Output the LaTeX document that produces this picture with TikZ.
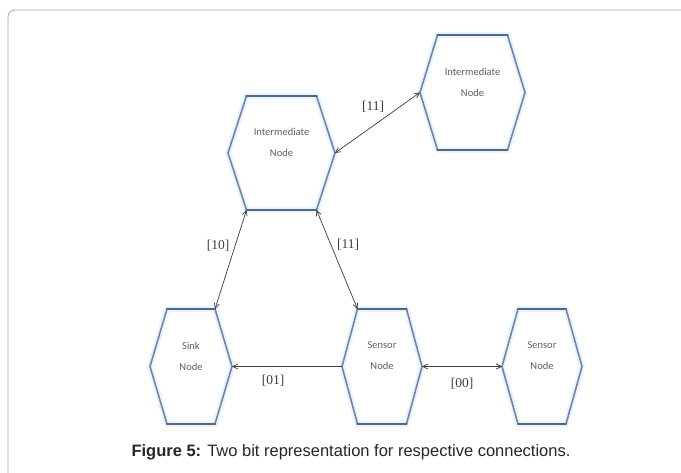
\documentclass[tikz,border=0pt]{standalone}
\usepackage{fontspec}
\setmainfont{Liberation Serif}
\newfontfamily\calib{Carlito}
\newfontfamily\arialf{Liberation Sans}
\usetikzlibrary{arrows.meta}
\definecolor{hexblue}{RGB}{96,138,182}
\definecolor{hexdark}{RGB}{70,106,150}
\definecolor{linegray}{RGB}{60,60,60}
\definecolor{txtgray}{RGB}{95,95,95}
\definecolor{framegray}{RGB}{165,165,165}
\tikzset{
  hexedge/.style={draw=hexblue, line width=1.6pt, line join=round, line cap=round},
  hexflat/.style={draw=hexdark, line width=2.6pt, line cap=round},
  hexglow/.style={draw=hexblue!10, line width=6pt, line join=round},
  hextext/.style={font=\calib\fontsize{10.5}{21}\selectfont, text=txtgray, align=center},
  conn/.style={draw=linegray, line width=0.7pt, >={Straight Barb[length=5pt,width=5pt]}},
  lbl/.style={font=\fontsize{13.5}{15}\selectfont, text=linegray, inner sep=1pt},
}
\newcommand{\hexa}[7]{%
  \coordinate (#1-l) at ({#2-#4},#3);
  \coordinate (#1-r) at ({#2+#4},#3);
  \coordinate (#1-tl) at ({#2-#5},{#3-#6});
  \coordinate (#1-tr) at ({#2+#5},{#3-#6});
  \coordinate (#1-bl) at ({#2-#5},{#3+#6});
  \coordinate (#1-br) at ({#2+#5},{#3+#6});
  \draw[hexglow, fill=white] (#1-l) -- (#1-tl) -- (#1-tr) -- (#1-r) -- (#1-br) -- (#1-bl) -- cycle;
  \draw[hexedge] (#1-tr) -- (#1-r) -- (#1-br);
  \draw[hexedge] (#1-bl) -- (#1-l) -- (#1-tl);
  \draw[hexflat] (#1-tl) -- (#1-tr);
  \draw[hexflat] (#1-bl) -- (#1-br);
  \node[hextext] (#1) at (#2,{#3-10.5}) {#7};
}
\begin{document}
\begin{tikzpicture}[x=1pt,y=-1pt]
\useasboundingbox (0,0) rectangle (681,473);
\clip (0,0) rectangle (681,473);
\fill[white] (0,0) rectangle (681,473);
\draw[framegray, line width=0.8pt, rounded corners=7pt] (8,10) rectangle (720,520);

\hexa{int1}{281.5}{153}{53.5}{35}{57}{Intermediate\\Node}
\hexa{int2}{472.5}{92.5}{52.5}{35}{57.5}{Intermediate\\Node}
\hexa{sink}{191}{366.5}{41}{24}{57.5}{Sink\\Node}
\hexa{sen1}{382}{366.5}{40}{24.5}{57.5}{Sensor\\Node}
\hexa{sen2}{542}{366.5}{40}{24}{57.5}{Sensor\\Node}

\draw[conn, <->] (int1-r) -- (int2-l);
\draw[conn, <->] (int1-bl) -- (sink-tr);
\draw[conn, <->] (int1-br) -- (sen1-tl);
\draw[conn, ->] (sen1-l) -- (sink-r);
\draw[conn, <->] (sen1-r) -- (sen2-l);

\node[lbl] (l1) at (373,107) {[11]};
\node[lbl] (l2) at (218,246) {[10]};
\node[lbl] (l3) at (348,245) {[11]};
\node[lbl] (l4) at (273,381) {[01]};
\node[lbl] (l5) at (462,384) {[00]};

\node[font=\arialf\fontsize{16.5}{18}\selectfont, text=black!85] (cap) at (351,452)
  {\textbf{Figure 5:} Two bit representation for respective connections.};
\end{tikzpicture}
\end{document}
